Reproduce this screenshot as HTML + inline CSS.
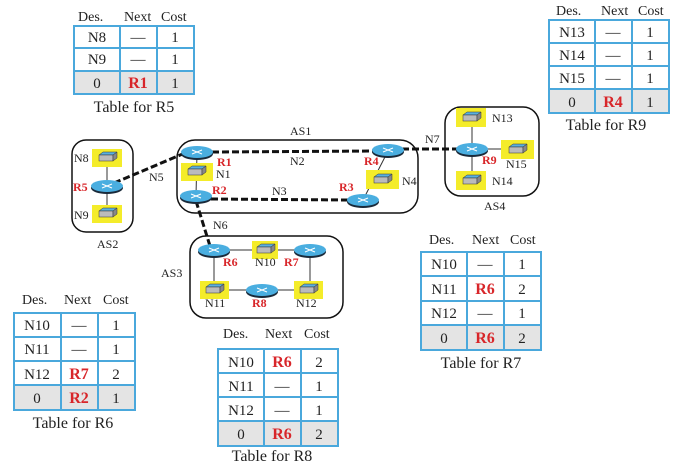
<!DOCTYPE html>
<html><head><meta charset="utf-8"><style>
body{margin:0;background:#fff;width:678px;height:467px;overflow:hidden}
svg{display:block}
text{font-family:"Liberation Serif",serif;fill:#222}
.h{font-size:14px}
.c{font-size:15px;text-anchor:middle}
.r{font-size:16px;font-weight:bold;fill:#d8262a;text-anchor:middle}
.cap{font-size:16px;text-anchor:middle}
.l{font-size:12px}
.rl{font-size:12px;font-weight:bold;fill:#d8262a}
.tb{fill:#fff;stroke:#4aa8dc;stroke-width:2}
.tg{fill:#e4e4e4;stroke:#4aa8dc;stroke-width:2}
.d{stroke:#111;stroke-width:3;stroke-dasharray:7,3;fill:none}
.ln{stroke:#333;stroke-width:1}
.box{fill:#fff;stroke:#111;stroke-width:1.5}
.y{fill:#f4ec2a}
</style></head><body>
<svg width="678" height="467" viewBox="0 0 678 467">
<defs>
<g id="rt"><ellipse cx="0" cy="2" rx="16" ry="6" fill="#1a2a3a"/><ellipse cx="0" cy="0" rx="16" ry="6" fill="#4aaee0"/><path d="M-5,-2 L5,2 M-5,2 L5,-2" stroke="#fff" stroke-width="1"/></g>
<g id="sw"><path d="M-8,-3 L-4,-6 L10,-6 L6,-3 Z" fill="#5ab0e0" stroke="#333" stroke-width=".5"/><rect x="-8" y="-3" width="14" height="6" fill="#bbb" stroke="#333" stroke-width=".5"/><path d="M6,-3 L10,-6 L10,0 L6,3Z" fill="#888" stroke="#333" stroke-width=".5"/></g>
</defs>

<rect class="box" x="72" y="140" width="61" height="92" rx="14"/>
<rect class="box" x="177" y="140" width="241" height="73" rx="18"/>
<rect class="box" x="445" y="107" width="94" height="89" rx="16"/>
<rect class="box" x="190" y="236" width="153" height="82" rx="16"/>

<line class="ln" x1="107" y1="158" x2="107" y2="213"/>
<line class="ln" x1="197" y1="152" x2="196" y2="196"/>
<line class="ln" x1="388" y1="151" x2="363" y2="200"/>
<line class="ln" x1="472" y1="118" x2="472" y2="180"/>
<line class="ln" x1="472" y1="149" x2="517" y2="149"/>
<line class="ln" x1="214" y1="250" x2="310" y2="250"/>
<line class="ln" x1="214" y1="250" x2="214" y2="290"/>
<line class="ln" x1="310" y1="250" x2="310" y2="290"/>
<line class="ln" x1="214" y1="290" x2="310" y2="290"/>

<line class="d" x1="114" y1="183" x2="185" y2="153"/>
<line class="d" x1="212" y1="152" x2="374" y2="151"/>
<line class="d" x1="211" y1="199" x2="348" y2="200"/>
<line class="d" x1="402" y1="149" x2="458" y2="149"/>
<line class="d" x1="196" y1="201" x2="210" y2="246"/>

<rect class="y" x="92" y="149" width="30" height="18"/>
<rect class="y" x="92" y="205" width="30" height="18"/>
<rect class="y" x="181" y="163" width="32" height="18"/>
<rect class="y" x="366" y="170" width="33" height="19"/>
<rect class="y" x="456" y="108" width="30" height="19"/>
<rect class="y" x="456" y="171" width="30" height="19"/>
<rect class="y" x="501" y="140" width="33" height="19"/>
<rect class="y" x="252" y="241" width="26" height="18"/>
<rect class="y" x="200" y="281" width="29" height="18"/>
<rect class="y" x="294" y="281" width="29" height="18"/>

<use href="#sw" x="107" y="158"/><use href="#sw" x="107" y="214"/>
<use href="#sw" x="196" y="172"/><use href="#sw" x="382" y="180"/>
<use href="#sw" x="471" y="118"/><use href="#sw" x="471" y="181"/><use href="#sw" x="517" y="150"/>
<use href="#sw" x="265" y="250"/><use href="#sw" x="214" y="290"/><use href="#sw" x="308" y="290"/>

<use href="#rt" x="107" y="186"/>
<use href="#rt" x="197" y="152"/><use href="#rt" x="196" y="196"/>
<use href="#rt" x="388" y="150"/><use href="#rt" x="363" y="200"/>
<use href="#rt" x="472" y="149"/>
<use href="#rt" x="214" y="250"/><use href="#rt" x="310" y="250"/><use href="#rt" x="262" y="290"/>

<text class="l" x="74" y="162">N8</text><text class="l" x="74" y="219">N9</text>
<text class="rl" x="73" y="191">R5</text>
<text class="l" x="97" y="248">AS2</text>
<text class="l" x="149" y="181">N5</text>
<text class="l" x="290" y="135">AS1</text>
<text class="rl" x="217" y="166">R1</text><text class="l" x="216" y="178">N1</text>
<text class="rl" x="212" y="194">R2</text>
<text class="l" x="290" y="165">N2</text><text class="l" x="272" y="195">N3</text>
<text class="rl" x="364" y="165">R4</text><text class="rl" x="339" y="191">R3</text>
<text class="l" x="402" y="185">N4</text>
<text class="l" x="425" y="143">N7</text>
<text class="l" x="492" y="122">N13</text><text class="l" x="492" y="185">N14</text>
<text class="l" x="506" y="168">N15</text><text class="rl" x="482" y="164">R9</text>
<text class="l" x="484" y="210">AS4</text>
<text class="l" x="213" y="229">N6</text>
<text class="l" x="161" y="277">AS3</text>
<text class="rl" x="223" y="266">R6</text><text class="l" x="255" y="266">N10</text><text class="rl" x="284" y="266">R7</text>
<text class="l" x="205" y="307">N11</text><text class="rl" x="252" y="307">R8</text><text class="l" x="296" y="307">N12</text>

<!-- Table R5 -->
<text class="h" x="78" y="21">Des.</text><text class="h" x="124" y="21">Next</text><text class="h" x="161" y="21">Cost</text>
<rect class="tb" x="74" y="26" width="46" height="22"/><rect class="tb" x="120" y="26" width="37" height="22"/><rect class="tb" x="157" y="26" width="37" height="22"/>
<rect class="tb" x="74" y="48" width="46" height="23"/><rect class="tb" x="120" y="48" width="37" height="23"/><rect class="tb" x="157" y="48" width="37" height="23"/>
<rect class="tg" x="74" y="71" width="46" height="23"/><rect class="tg" x="120" y="71" width="37" height="23"/><rect class="tg" x="157" y="71" width="37" height="23"/>
<text class="c" x="97" y="42">N8</text><text class="c" x="138" y="42">—</text><text class="c" x="175" y="42">1</text>
<text class="c" x="97" y="64">N9</text><text class="c" x="138" y="64">—</text><text class="c" x="175" y="64">1</text>
<text class="c" x="97" y="88">0</text><text class="r" x="138" y="88">R1</text><text class="c" x="175" y="88">1</text>
<text class="cap" x="134" y="112">Table for R5</text>

<!-- Table R9 -->
<text class="h" x="556" y="15">Des.</text><text class="h" x="601" y="15">Next</text><text class="h" x="638" y="15">Cost</text>
<rect class="tb" x="549" y="20" width="46" height="23"/><rect class="tb" x="595" y="20" width="37" height="23"/><rect class="tb" x="632" y="20" width="37" height="23"/>
<rect class="tb" x="549" y="43" width="46" height="23"/><rect class="tb" x="595" y="43" width="37" height="23"/><rect class="tb" x="632" y="43" width="37" height="23"/>
<rect class="tb" x="549" y="66" width="46" height="23"/><rect class="tb" x="595" y="66" width="37" height="23"/><rect class="tb" x="632" y="66" width="37" height="23"/>
<rect class="tg" x="549" y="89" width="46" height="24"/><rect class="tg" x="595" y="89" width="37" height="24"/><rect class="tg" x="632" y="89" width="37" height="24"/>
<text class="c" x="572" y="37">N13</text><text class="c" x="613" y="37">—</text><text class="c" x="650" y="37">1</text>
<text class="c" x="572" y="60">N14</text><text class="c" x="613" y="60">—</text><text class="c" x="650" y="60">1</text>
<text class="c" x="572" y="83">N15</text><text class="c" x="613" y="83">—</text><text class="c" x="650" y="83">1</text>
<text class="c" x="572" y="107">0</text><text class="r" x="613" y="107">R4</text><text class="c" x="650" y="107">1</text>
<text class="cap" x="606" y="130">Table for R9</text>

<!-- Table R7 -->
<text class="h" x="429" y="244">Des.</text><text class="h" x="472" y="244">Next</text><text class="h" x="510" y="244">Cost</text>
<rect class="tb" x="421" y="252" width="46" height="24"/><rect class="tb" x="467" y="252" width="37" height="24"/><rect class="tb" x="504" y="252" width="37" height="24"/>
<rect class="tb" x="421" y="276" width="46" height="25"/><rect class="tb" x="467" y="276" width="37" height="25"/><rect class="tb" x="504" y="276" width="37" height="25"/>
<rect class="tb" x="421" y="301" width="46" height="24"/><rect class="tb" x="467" y="301" width="37" height="24"/><rect class="tb" x="504" y="301" width="37" height="24"/>
<rect class="tg" x="421" y="325" width="46" height="25"/><rect class="tg" x="467" y="325" width="37" height="25"/><rect class="tg" x="504" y="325" width="37" height="25"/>
<text class="c" x="444" y="269">N10</text><text class="c" x="485" y="269">—</text><text class="c" x="522" y="269">1</text>
<text class="c" x="444" y="294">N11</text><text class="r" x="485" y="294">R6</text><text class="c" x="522" y="294">2</text>
<text class="c" x="444" y="318">N12</text><text class="c" x="485" y="318">—</text><text class="c" x="522" y="318">1</text>
<text class="c" x="444" y="343">0</text><text class="r" x="485" y="343">R6</text><text class="c" x="522" y="343">2</text>
<text class="cap" x="481" y="368">Table for R7</text>

<!-- Table R6 -->
<text class="h" x="22" y="304">Des.</text><text class="h" x="64" y="304">Next</text><text class="h" x="103" y="304">Cost</text>
<rect class="tb" x="14" y="313" width="47" height="24"/><rect class="tb" x="61" y="313" width="37" height="24"/><rect class="tb" x="98" y="313" width="37" height="24"/>
<rect class="tb" x="14" y="337" width="47" height="24"/><rect class="tb" x="61" y="337" width="37" height="24"/><rect class="tb" x="98" y="337" width="37" height="24"/>
<rect class="tb" x="14" y="361" width="47" height="24"/><rect class="tb" x="61" y="361" width="37" height="24"/><rect class="tb" x="98" y="361" width="37" height="24"/>
<rect class="tg" x="14" y="385" width="47" height="25"/><rect class="tg" x="61" y="385" width="37" height="25"/><rect class="tg" x="98" y="385" width="37" height="25"/>
<text class="c" x="37" y="330">N10</text><text class="c" x="79" y="330">—</text><text class="c" x="116" y="330">1</text>
<text class="c" x="37" y="354">N11</text><text class="c" x="79" y="354">—</text><text class="c" x="116" y="354">1</text>
<text class="c" x="37" y="379">N12</text><text class="r" x="79" y="379">R7</text><text class="c" x="116" y="379">2</text>
<text class="c" x="37" y="403">0</text><text class="r" x="79" y="403">R2</text><text class="c" x="116" y="403">1</text>
<text class="cap" x="73" y="428">Table for R6</text>

<!-- Table R8 -->
<text class="h" x="223" y="338">Des.</text><text class="h" x="265" y="338">Next</text><text class="h" x="304" y="338">Cost</text>
<rect class="tb" x="218" y="349" width="46" height="24"/><rect class="tb" x="264" y="349" width="37" height="24"/><rect class="tb" x="301" y="349" width="37" height="24"/>
<rect class="tb" x="218" y="373" width="46" height="24"/><rect class="tb" x="264" y="373" width="37" height="24"/><rect class="tb" x="301" y="373" width="37" height="24"/>
<rect class="tb" x="218" y="397" width="46" height="24"/><rect class="tb" x="264" y="397" width="37" height="24"/><rect class="tb" x="301" y="397" width="37" height="24"/>
<rect class="tg" x="218" y="421" width="46" height="25"/><rect class="tg" x="264" y="421" width="37" height="25"/><rect class="tg" x="301" y="421" width="37" height="25"/>
<text class="c" x="241" y="367">N10</text><text class="r" x="282" y="367">R6</text><text class="c" x="319" y="367">2</text>
<text class="c" x="241" y="391">N11</text><text class="c" x="282" y="391">—</text><text class="c" x="319" y="391">1</text>
<text class="c" x="241" y="415">N12</text><text class="c" x="282" y="415">—</text><text class="c" x="319" y="415">1</text>
<text class="c" x="241" y="439">0</text><text class="r" x="282" y="439">R6</text><text class="c" x="319" y="439">2</text>
<text class="cap" x="272" y="461">Table for R8</text>
</svg>
</body></html>
